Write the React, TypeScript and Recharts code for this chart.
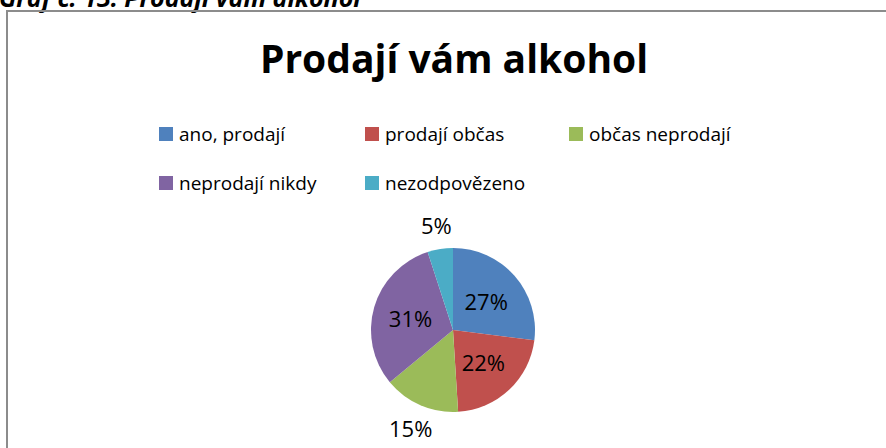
import { PieChart, Pie, Cell } from 'recharts'

const categories = ['ano, prodají', 'prodají občas', 'občas neprodají', 'neprodají nikdy', 'nezodpovězeno']
const shares = [27, 22, 15, 31, 5]
const colors = ['#4F81BD', '#C0504D', '#9BBB59', '#8064A2', '#4BACC6']

const data = categories.map((name, i) => ({ name, value: shares[i] }))

const FONT = "'Open Sans', 'Noto Sans', sans-serif"
const RAD = Math.PI / 180

function renderLabel(props: any) {
  const { cx, cy, midAngle, outerRadius, value } = props
  const inside = value >= 20
  const r = inside ? outerRadius * 0.54 : outerRadius * 1.3
  const x = cx + r * Math.cos(-midAngle * RAD)
  const y = cy + r * Math.sin(-midAngle * RAD)
  return (
    <text
      x={x}
      y={y}
      textAnchor="middle"
      dominantBaseline="central"
      fontFamily={FONT}
      fontSize={22}
      fill="#000"
    >
      {value}%
    </text>
  )
}

// legend grid: 3 columns, 2 rows, like the Excel legend
const legendCols = [159, 365, 569]
const legendRows = [134, 183]

function LegendBox() {
  return (
    <>
      {categories.map((name, i) => (
        <div
          key={name}
          style={{
            position: 'absolute',
            left: legendCols[i % 3],
            top: legendRows[Math.floor(i / 3)] - 13,
            height: 26,
            display: 'flex',
            alignItems: 'center',
            fontFamily: FONT,
            fontSize: 19,
            color: '#000',
            whiteSpace: 'nowrap',
          }}
        >
          <span style={{ display: 'inline-block', width: 14, height: 14, background: colors[i], marginRight: 6 }} />
          {name}
        </div>
      ))}
    </>
  )
}

export default function App() {
  return (
    <div style={{ position: 'fixed', left: 0, top: 0, width: 886, height: 448, overflow: 'hidden', background: '#fff' }}>
      <style>{'html, body { margin: 0; overflow: hidden; }'}</style>
      <div
        style={{
          position: 'absolute',
          left: -1,
          top: -15,
          fontFamily: FONT,
          fontStyle: 'italic',
          fontWeight: 700,
          fontSize: 25,
          lineHeight: '25px',
          whiteSpace: 'nowrap',
          color: '#000',
        }}
      >
        Graf č. 13: Prodají vám alkohol
      </div>
      {/* chart frame: only top and left edges are inside the crop */}
      <div
        style={{
          position: 'absolute',
          left: 6,
          top: 10,
          width: 1000,
          height: 600,
          borderTop: '2px solid #8c8c8c',
          borderLeft: '2px solid #8c8c8c',
          boxSizing: 'border-box',
        }}
      />
      <div
        style={{
          position: 'absolute',
          left: 0,
          top: 38,
          width: 908,
          textAlign: 'center',
          fontFamily: FONT,
          fontWeight: 700,
          fontSize: 39,
          lineHeight: '40px',
          color: '#000',
        }}
      >
        Prodají vám alkohol
      </div>
      <LegendBox />
      <div style={{ position: 'absolute', left: 0, top: 0 }}>
        <PieChart width={886} height={448} margin={{ top: 0, right: 0, bottom: 0, left: 0 }}>
          <Pie
            data={data}
            dataKey="value"
            nameKey="name"
            cx={453}
            cy={330}
            outerRadius={82}
            startAngle={90}
            endAngle={-270}
            stroke="none"
            label={renderLabel}
            labelLine={false}
            isAnimationActive={false}
          >
            {data.map((d, i) => (
              <Cell key={d.name} fill={colors[i]} />
            ))}
          </Pie>
        </PieChart>
      </div>
    </div>
  )
}
